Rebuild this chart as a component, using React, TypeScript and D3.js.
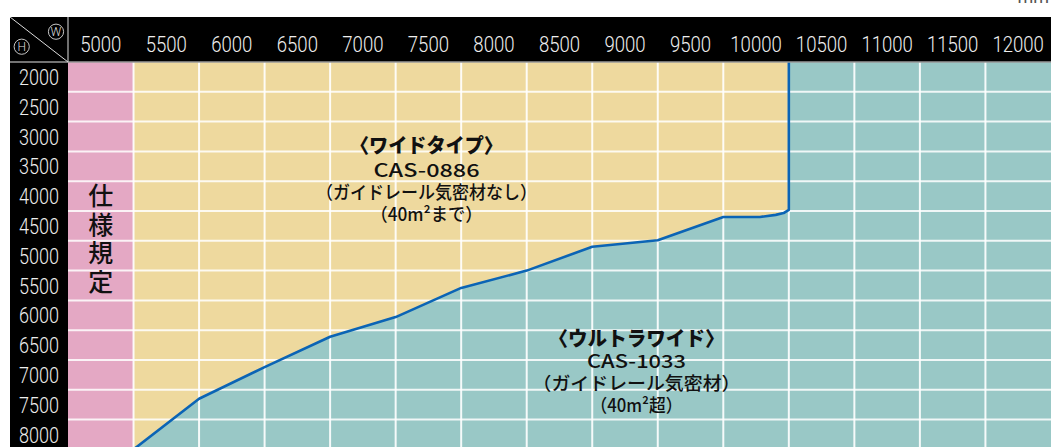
import * as d3 from 'd3';

// column (W) and row (H) values, mm
const widths = [5000, 5500, 6000, 6500, 7000, 7500, 8000, 8500, 9000, 9500, 10000, 10500, 11000, 11500, 12000];
const heights = [2000, 2500, 3000, 3500, 4000, 4500, 5000, 5500, 6000, 6500, 7000, 7500, 8000];

// boundary between the two types
const boundaryW = [5250, 5750, 6250, 6750, 7250, 7750, 8250, 8750, 9250, 9750, 10030, 10150, 10210, 10250, 10250];
const boundaryH = [8250, 7400, 6870, 6360, 6030, 5540, 5250, 4850, 4740, 4350, 4350, 4315, 4285, 4230, 1750];

const specLabel = '仕様規定';
const wideLines = ['〈ワイドタイプ〉', 'CAS-0886', '（ガイドレール気密材なし）', '（40m²まで）'];
const ultraLines = ['〈ウルトラワイド〉', 'CAS-1033', '（ガイドレール気密材）', '（40m²超）'];

const W = 1051;
const H = 447;
const left = 68;
const top = 62;
const colW = 65.53;
const rowH = 29.8;

const x = d3.scaleLinear().domain([4750, 12250]).range([left, left + colW * 15]);
const y = d3.scaleLinear().domain([1750, 8250]).range([top, top + rowH * 13]);

const PINK = '#e4a8c4';
const YELLOW = '#eed99e';
const TEAL = '#99c8c6';
const BLUE = '#0b64b5';
const NUM_FONT = 'Roboto, "Noto Sans", sans-serif';
const JP_FONT = '"Noto Sans CJK JP", sans-serif';

const App = () => {
  const pts: [number, number][] = boundaryW.map((w, i) => [x(w), y(boundaryH[i])]);
  const line = d3.line().curve(d3.curveLinear);
  const yellowPoly = [[x(5250), y(1750)], [x(5250), y(8250)], ...pts] as [number, number][];
  const wideLen = [153, 106, 221, 112];
  const wideBase = [153, 177, 199, 221];
  const ultraLen = [176, 99, 208, 92];
  const ultraBase = [346, 368, 390, 412];

  return (
    <svg width={W} height={H} style={{ position: 'absolute', left: 0, top: 0 }}>
      <defs>
        <clipPath id="plot">
          <rect x={left} y={top} width={W - left} height={H - top} />
        </clipPath>
      </defs>
      <text x={1049} y={3} textAnchor="end" fontSize={18} fill="#555" fontFamily={NUM_FONT}>mm</text>

      {/* black header and row-label column */}
      <rect x={10} y={17} width={W - 10} height={top - 17} fill="#000" />
      <rect x={10} y={17} width={left - 10} height={H - 17} fill="#000" />

      <g clipPath="url(#plot)">
        <rect x={x(5250)} y={top} width={W - x(5250)} height={H - top} fill={TEAL} />
        <rect x={x(4750)} y={top} width={x(5250) - x(4750)} height={H - top} fill={PINK} />
        <path d={line(yellowPoly) + 'Z'} fill={YELLOW} />
        {widths.slice(1).map(w => (
          <line key={w} x1={x(w - 250)} x2={x(w - 250)} y1={top} y2={H} stroke="#fff" strokeWidth={2} strokeOpacity={0.9} />
        ))}
        {heights.slice(1).map(h => (
          <line key={h} x1={left} x2={W} y1={y(h - 250)} y2={y(h - 250)} stroke="#fff" strokeWidth={2} strokeOpacity={0.85} />
        ))}
        <path d={line(pts) || ''} fill="none" stroke={BLUE} strokeWidth={2.6} strokeLinejoin="round" />
      </g>

      {/* header separators */}
      <line x1={10} x2={W} y1={top} y2={top} stroke="#9a9a9a" strokeWidth={1.5} />
      <line x1={left} x2={left} y1={17} y2={top} stroke="#bbb" strokeWidth={1.2} />
      <line x1={10} y1={17} x2={left} y2={top} stroke="#ddd" strokeWidth={1} />
      <circle cx={21.7} cy={46.7} r={7.6} fill="none" stroke="#ddd" strokeWidth={0.9} />
      <text x={21.7} y={51.3} textAnchor="middle" fontSize={12} fill="#ddd" fontFamily={NUM_FONT} fontWeight={300}>H</text>
      <circle cx={56} cy={31.7} r={7.6} fill="none" stroke="#ddd" strokeWidth={0.9} />
      <text x={56} y={36.3} textAnchor="middle" fontSize={12} fill="#ddd" fontFamily={NUM_FONT} fontWeight={300}>W</text>

      {widths.map(w => (
        <text key={w} x={x(w)} y={52} textAnchor="middle" fontSize={22.5} fill="#eee" fontFamily={NUM_FONT} fontWeight={300}
          textLength={String(w).length * 10.3} lengthAdjust="spacingAndGlyphs">{w}</text>
      ))}
      {heights.map(h => (
        <text key={h} x={39} y={y(h) + 8} textAnchor="middle" fontSize={21.5} fill="#eee" fontFamily={NUM_FONT} fontWeight={300}
          textLength={40} lengthAdjust="spacingAndGlyphs">{h}</text>
      ))}

      <text x={x(5000)} y={183} fontSize={25} fill="#111" fontFamily={JP_FONT} fontWeight={500}
        style={{ writingMode: 'vertical-rl', letterSpacing: '3.7px' }}>{specLabel}</text>

      {wideLines.map((t, i) => (
        <text key={t} x={426.5} y={wideBase[i]} textAnchor="middle" fontSize={i === 0 ? 20 : 18}
          fontWeight={i === 0 ? 900 : 500} fill="#111" fontFamily={JP_FONT}
          textLength={wideLen[i]} lengthAdjust="spacingAndGlyphs">{t}</text>
      ))}
      {ultraLines.map((t, i) => (
        <text key={t} x={636.5} y={ultraBase[i]} textAnchor="middle" fontSize={i === 0 ? 20 : 18}
          fontWeight={i === 0 ? 900 : 500} fill="#111" fontFamily={JP_FONT}
          textLength={ultraLen[i]} lengthAdjust="spacingAndGlyphs">{t}</text>
      ))}
    </svg>
  );
};

export default App;
